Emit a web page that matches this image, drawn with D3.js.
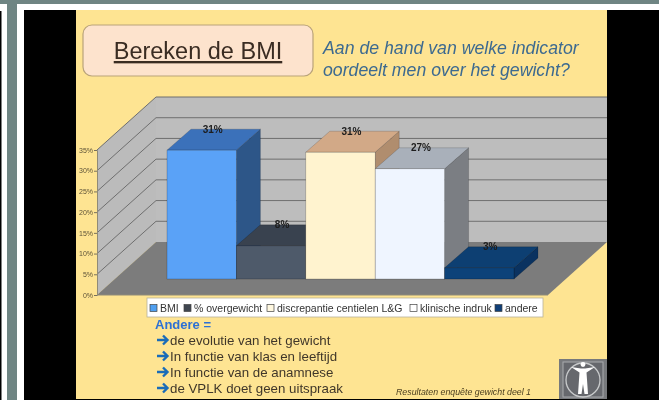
<!DOCTYPE html>
<html>
<head>
<meta charset="utf-8">
<script src="https://cdnjs.cloudflare.com/ajax/libs/d3/7.8.5/d3.min.js"></script>
<style>
html,body{margin:0;padding:0;background:#6f8583;overflow:hidden}
svg{display:block;filter:blur(0.6px)}
text{font-family:"Liberation Sans",Arial,sans-serif}
</style>
</head>
<body>
<svg id="c" width="659" height="400"></svg>
<script>
const categories = ["BMI","% overgewicht","discrepantie centielen L&G","klinische indruk","andere"];
const values = [0.311,0.08,0.306,0.266,0.027];
const yTicks = [0,0.05,0.10,0.15,0.20,0.25,0.30,0.35];
const frontColors = ["#5aa2f7","#4e5a6a","#fff3cf","#eff5ff","#0c4279"];
const topColors = ["#3b71ba","#39424f","#d2a987","#a9b0ba","#0d3f72"];
const sideColors = ["#2d5688","#2d3440","#b08d6e","#7b7e83","#0a3260"];
const legendSwatch = ["#4f9ff0","#3f4650","#fff8e0","#ffffff","#0f3f78"];
const legendTextX = [160,194,277,420,505];
const notes = ["de evolutie van het gewicht","In functie van klas en leeftijd","In functie van de anamnese","de VPLK doet geen uitspraak"];

const svg = d3.select("#c");
// page frame
svg.append("rect").attr("width",659).attr("height",400).attr("fill","#6f8583");
svg.append("rect").attr("x",0).attr("y",4).attr("width",7).attr("height",396).attr("fill","#fff");
svg.append("rect").attr("x",0).attr("y",11).attr("width",1.5).attr("height",389).attr("fill","#000");
svg.append("rect").attr("x",17).attr("y",4).attr("width",642).attr("height",396).attr("fill","#fff");
svg.append("rect").attr("x",24).attr("y",10).attr("width",635).attr("height",390).attr("fill","#000");
svg.append("rect").attr("x",76).attr("y",10).attr("width",531).attr("height",389).attr("fill","#fee492");

// title box
svg.append("rect").attr("x",83).attr("y",25).attr("width",230).attr("height",51).attr("rx",9)
  .attr("fill","#fde3cd").attr("stroke","#b9a37a").attr("stroke-width",1.2);
svg.append("text").attr("x",198).attr("y",59).attr("text-anchor","middle").attr("font-size",23.5)
  .attr("fill","#3a2c22").attr("text-decoration","underline").text("Bereken de BMI");
const q = svg.append("g").attr("fill","#3d6a90").attr("font-style","italic").attr("font-size",17.7);
q.append("text").attr("x",323).attr("y",54).text("Aan de hand van welke indicator");
q.append("text").attr("x",323).attr("y",76).text("oordeelt men over het gewicht?");

// 3D chart
const x0=97, y0=295, wallDx=59, wallDy=-53, floorW=451;
const y = d3.scaleLinear().domain([0,0.35]).range([y0,y0-145]);
const x = d3.scaleBand().domain(categories).range([167,514]);
const barBase = 279, barDx=24, barDy=-21;
const line = d3.line();
const clip = svg.append("clipPath").attr("id","slide").append("rect").attr("x",76).attr("y",10).attr("width",531).attr("height",389);
const chart = svg.append("g").attr("clip-path","url(#slide)");
const bw = 607, top0 = y(0.35), bx = x0+wallDx;
chart.append("path").attr("fill","#bdbdbd").attr("d",line([[bx,top0+wallDy],[bw,top0+wallDy],[bw,y0+wallDy],[bx,y0+wallDy]])+"Z");
chart.append("path").attr("fill","#bbbbbb").attr("d",line([[x0,top0],[bx,top0+wallDy],[bx,y0+wallDy],[x0,y0]])+"Z");
chart.append("path").attr("fill","#7c7c7c").attr("d",line([[x0,y0],[bx,y0+wallDy],[bw,y0+wallDy],[x0+floorW,y0]])+"Z");
chart.selectAll("path.grid").data(yTicks.slice(1)).join("path").attr("class","grid")
  .attr("fill","none").attr("stroke","#6f6f6f").attr("stroke-width",1)
  .attr("d",d=>line([[x0,y(d)],[bx,y(d)+wallDy],[bw,y(d)+wallDy]]));
chart.append("path").attr("fill","none").attr("stroke","#8f8a78").attr("stroke-width",1)
  .attr("d",line([[x0,y0],[x0+floorW,y0]]));

// axis
const axis = d3.axisLeft(y).tickValues(yTicks).tickFormat(d3.format(".0%")).tickSize(3).tickPadding(1);
const ga = svg.append("g").attr("transform",`translate(${x0},0)`).call(axis);
ga.select(".domain").attr("stroke","#8f8a78");
ga.selectAll(".tick line").attr("stroke","#77705c");
ga.selectAll("text").attr("font-size",7).attr("fill","#5c5238").attr("font-family","Liberation Sans");

// bars
const bars = chart.selectAll("g.bar").data(categories).join("g").attr("class","bar");
const hBar = d3.scaleLinear().domain([0,0.35]).range([barBase,barBase-145]);
bars.append("path").attr("fill",(d,i)=>sideColors[i]).attr("stroke","#00000040").attr("stroke-width",.6)
  .attr("d",(d,i)=>{const r=x(d)+x.bandwidth(),t=hBar(values[i]);return line([[r,t],[r+barDx,t+barDy],[r+barDx,barBase+barDy],[r,barBase]])+"Z";});
bars.append("path").attr("fill",(d,i)=>topColors[i]).attr("stroke","#00000040").attr("stroke-width",.6)
  .attr("d",(d,i)=>{const l=x(d),r=l+x.bandwidth(),t=hBar(values[i]);return line([[l,t],[r,t],[r+barDx,t+barDy],[l+barDx,t+barDy]])+"Z";});
bars.append("rect").attr("x",d=>x(d)).attr("width",x.bandwidth())
  .attr("y",(d,i)=>hBar(values[i])).attr("height",(d,i)=>barBase-hBar(values[i]))
  .attr("fill",(d,i)=>frontColors[i]).attr("stroke","#00000050").attr("stroke-width",.6);
svg.selectAll("text.val").data(categories).join("text").attr("class","val")
  .attr("x",d=>x(d)+x.bandwidth()/2+barDx/2-1).attr("y",(d,i)=>hBar(values[i])+barDy+3.5)
  .attr("text-anchor","middle").attr("font-size",10).attr("font-weight","bold").attr("fill","#1d1d1d")
  .text((d,i)=>d3.format(".0%")(values[i]));

// legend
svg.append("rect").attr("x",147).attr("y",298).attr("width",396).attr("height",19)
  .attr("fill","#fff").attr("stroke","#b8b29c").attr("stroke-width",.8);
const lg = svg.selectAll("g.lg").data(categories).join("g").attr("class","lg");
lg.append("rect").attr("x",(d,i)=>legendTextX[i]-10).attr("y",304.5).attr("width",7).attr("height",7)
  .attr("fill",(d,i)=>legendSwatch[i]).attr("stroke","#444").attr("stroke-width",.7);
lg.append("text").attr("x",(d,i)=>legendTextX[i]).attr("y",311.5).attr("font-size",10.5).attr("fill","#333").text(d=>d);

// notes
svg.append("text").attr("x",155).attr("y",329).attr("font-size",13).attr("font-weight","bold").attr("fill","#2c70d4").text("Andere =");
const nt = svg.selectAll("g.nt").data(notes).join("g").attr("class","nt")
  .attr("transform",(d,i)=>`translate(0,${345+i*16})`);
nt.append("path").attr("fill","none").attr("stroke","#1a6cb8").attr("stroke-width",2.4)
  .attr("d","M157 -5H167M163 -9.5L167.5 -5L163 -0.5");
nt.append("text").attr("x",170).attr("y",0).attr("font-size",13.3).attr("fill","#40372a").text(d=>d);

// footer
svg.append("text").attr("x",396).attr("y",395).attr("font-size",8.8).attr("font-style","italic").attr("fill","#4d4020").text("Resultaten enquête gewicht deel 1");

// logo
const logo = svg.append("g");
logo.append("rect").attr("x",559).attr("y",359).attr("width",48).attr("height",40).attr("fill","#77797c");
logo.append("rect").attr("x",563).attr("y",362).attr("width",40).attr("height",35).attr("fill","#66686d").attr("stroke","#a9abae").attr("stroke-width",1);
logo.append("circle").attr("cx",583).attr("cy",380).attr("r",17).attr("fill","none").attr("stroke","#c9cbcc").attr("stroke-width",1.3);
logo.append("circle").attr("cx",583).attr("cy",364.5).attr("r",2.4).attr("fill","#fff");
logo.append("path").attr("fill","#fff").attr("d","M571 367L581 368.5H585L595 367L586.5 372.5L588 394H584.5L583 384L581.5 394H578L579.5 372.5Z");
</script>
</body>
</html>
